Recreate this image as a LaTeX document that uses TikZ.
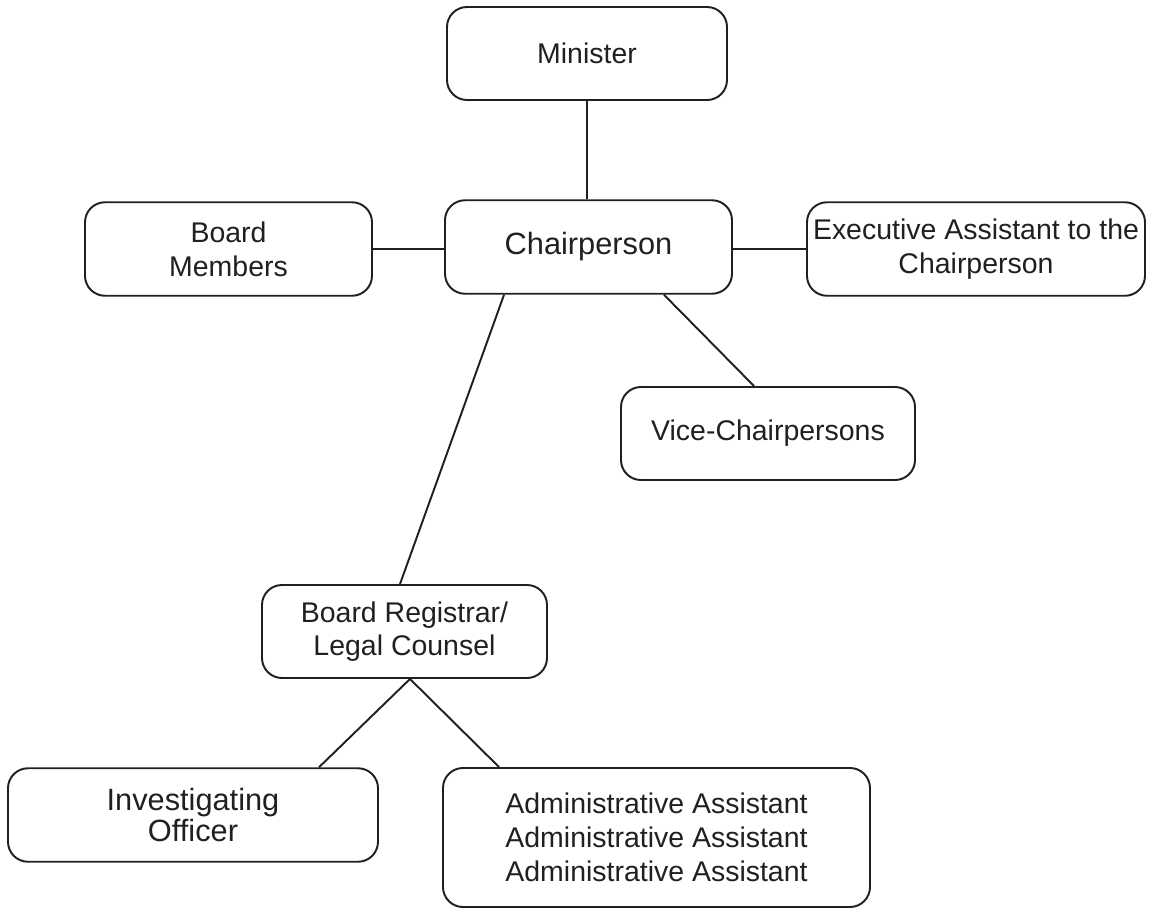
\documentclass[tikz,border=0pt]{standalone}
\usepackage{fontspec}
\setmainfont{Liberation Sans}
\usepackage{tikz}
\definecolor{inkgrey}{HTML}{231F20}

\begin{document}
\begin{tikzpicture}
 [box node/.style={draw=inkgrey, text=inkgrey, rounded corners=0.4cm, line width=1.1pt, align=center, inner sep=0pt,
                   minimum height=1.87cm, font=\fontsize{16.2}{19.2}\selectfont},
  big node/.style={box node, font=\fontsize{17.5}{17.2}\selectfont},
  link/.style={draw=inkgrey, line width=1.1pt}]

\useasboundingbox (0,0) rectangle (23,-18.18);

\node[box node, minimum width=5.6cm, minimum height=1.86cm] (min) at (11.74,-1.07) {Minister};
\node[big node, minimum width=5.74cm] (chair) at (11.77,-4.94) {Chairperson};
\node[box node, minimum width=5.74cm] (bm) at (4.57,-4.98) {Board\\Members};
\node[box node, minimum width=6.76cm] (exec) at (19.52,-4.98) {Executive Assistant to the\\Chairperson};
\node[box node, minimum width=5.88cm, minimum height=1.86cm] (vice) at (15.36,-8.67) {Vice-Chairpersons};

\node[box node, minimum width=5.7cm, minimum height=1.86cm] (reg) at (8.09,-12.63) {Board Registrar/\\Legal Counsel};
\node[big node, minimum width=7.4cm] (inv) at (3.86,-16.30) {Investigating\\Officer};
\node[box node, minimum width=8.54cm, minimum height=2.78cm] (adm) at (13.13,-16.75)
   {Administrative Assistant\\Administrative Assistant\\Administrative Assistant};

\path
  (min.south) edge [link] (min.south |- chair.north)
  (bm.east) edge [link] (bm.east -| chair.west)
  (exec.west -| chair.east) edge [link] (exec.west)
  ([xshift=-1.38cm]chair.south east) edge [link] ([xshift=-0.28cm]vice.north)
  ([xshift=1.2cm]chair.south west) edge [link] ([xshift=-0.09cm]reg.north)
  ([xshift=0.11cm]reg.south) edge [link] ([xshift=-1.2cm]inv.north east)
  ([xshift=0.11cm]reg.south) edge [link] ([xshift=1.14cm]adm.north west);

\end{tikzpicture}
\end{document}
